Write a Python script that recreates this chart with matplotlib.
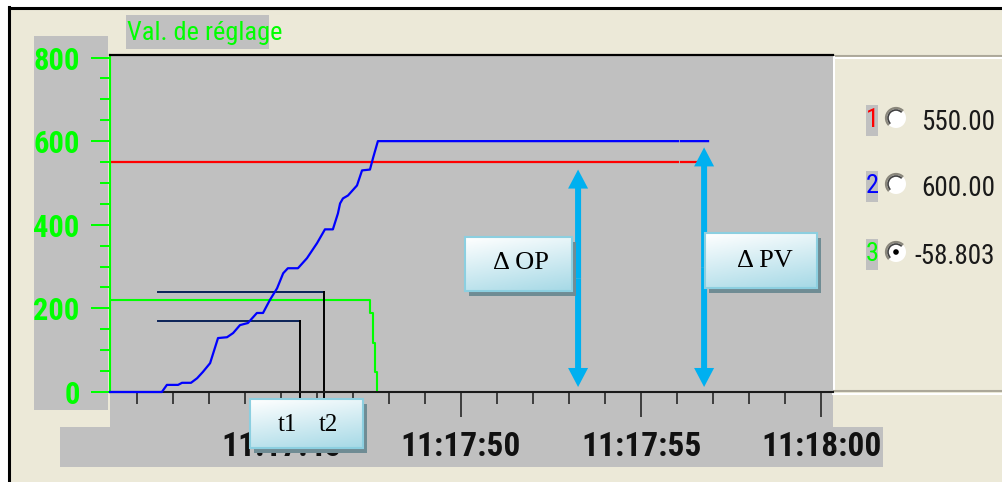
import numpy as np
import matplotlib.pyplot as plt
from matplotlib import font_manager
from matplotlib.patches import Rectangle, Circle, Arc, FancyArrow
from matplotlib.colors import LinearSegmentedColormap
from matplotlib.ticker import MultipleLocator

# temps en secondes après 11:17:00
t_consigne = [40.25, 56.03, 56.07, 56.11, 56.78]
v_consigne = [550, 550, np.nan, 550, 550]

t_mesure = [40.25, 41.69, 41.83, 42.14, 42.25, 42.50, 42.67, 42.83, 43.03, 43.25,
            43.50, 43.67, 43.86, 44.08, 44.33, 44.50, 44.69, 44.89, 45.06, 45.19,
            45.47, 45.72, 46.00, 46.22, 46.44, 46.58, 46.64, 46.72, 46.86, 47.11,
            47.25, 47.47, 47.56, 47.69, 56.03, 56.07, 56.11, 56.86]
v_mesure = [0, 0, 17, 17, 22, 22, 33, 48, 69, 129,
            131, 141, 160, 165, 189, 189, 220, 248, 284, 296,
            296, 320, 356, 389, 389, 427, 451, 463, 470, 494,
            530, 532, 561, 600, 600, np.nan, 600, 600]

t_sortie = [40.25, 47.47, 47.56, 47.61, 47.67]
v_sortie = [220, 190, 117, 48, 0]

# repères t1 / t2
t_repere = [45.53, 46.19]
niv_repere = [169, 238]
t_depart_repere = 41.58

# flèches delta OP / delta PV
t_fleche = [53.25, 56.75]
haut_fleche = [532, 585]
bas_fleche = 12

legende_num = ['1', '2', '3']
legende_val = ['550.00', '600.00', '-58.803']
legende_coul = ['#ff0000', '#0000ff', '#00ff00']

dispo = {f.name for f in font_manager.fontManager.ttflist}
etroite = next(f for f in ['Liberation Sans Narrow', 'Roboto Condensed', 'DejaVu Sans'] if f in dispo)
serif = 'Liberation Serif'

GRIS = '#c0c0c0'
BEIGE = '#ece9d8'
VERT = '#00ff00'

W, H = 1002, 482
fig = plt.figure(figsize=(W / 100, H / 100), dpi=100)
fig.patch.set_facecolor('white')

# fond de la fenêtre (coordonnées en pixels)
fond = fig.add_axes([0, 0, 1, 1], zorder=-1)
fond.set_xlim(0, W)
fond.set_ylim(H, 0)
fond.axis('off')
fond.add_patch(Rectangle((9, 7), W - 9, H - 7, fc=BEIGE, ec='none'))
fond.plot([9.5, 9.5], [7, H], color='black', lw=2.2)
fond.plot([9, W], [7.5, 7.5], color='black', lw=2.2)
fond.add_patch(Rectangle((126, 15), 143, 34, fc=GRIS, ec='none'))
fond.add_patch(Rectangle((34, 36), 74, 374, fc=GRIS, ec='none'))
fond.add_patch(Rectangle((110, 55), 723, 372, fc=GRIS, ec='none'))
fond.add_patch(Rectangle((60, 427), 823, 40, fc=GRIS, ec='none'))
fond.text(127, 33, 'Val. de réglage', color=VERT, fontsize=19, family=etroite,
          ha='left', va='center')

# panneau de droite avec les valeurs courantes
fond.add_patch(Rectangle((833, 55), W - 833, 337, fc=BEIGE, ec='none'))
fond.plot([833, W], [55.5, 55.5], color='#aca899', lw=1.5)
fond.plot([835, W], [58, 58], color='white', lw=1.5)
fond.plot([834.5, 834.5], [57, 391], color='white', lw=1.5)
fond.plot([833, W], [391, 391], color='#aca899', lw=1.5)
fond.plot([833, W], [394, 394], color='white', lw=1.5)
for k, y in enumerate([120, 186, 254]):
    fond.add_patch(Rectangle((866, y - 15), 12, 31, fc=GRIS, ec='none'))
    fond.text(872, y, legende_num[k], color=legende_coul[k], fontsize=19,
              family=etroite, ha='center', va='center')
    fond.add_patch(Circle((896, y - 2), 10, fc='white', ec='none'))
    fond.add_patch(Arc((896, y - 2), 20, 20, theta1=135, theta2=315, color='#8a877c', lw=1.6))
    fond.add_patch(Arc((896, y - 2), 16, 16, theta1=135, theta2=315, color='#404040', lw=1.2))
    if k == 2:
        fond.add_patch(Circle((896, y - 2), 2.8, fc='black', ec='none'))
    fond.text(995, y + 2, legende_val[k], color='#1a1a1a', fontsize=19.5,
              family=etroite, ha='right', va='center')

# zone de tracé
ax = fig.add_axes([110 / W, 1 - 392 / H, 723 / W, 337 / H])
ax.set_facecolor(GRIS)
ax.set_xlim(40.25, 60.33)
ax.set_ylim(0, 806)
ax.spines['right'].set_visible(False)
ax.spines['top'].set_color('black')
ax.spines['top'].set_linewidth(1.6)
ax.spines['left'].set_color(VERT)
ax.spines['left'].set_linewidth(1.5)
ax.spines['bottom'].set_color('#1a1a1a')
ax.spines['bottom'].set_linewidth(1.5)


def heure(t):
    t = int(round(t))
    return f'11:{17 + t // 60}:{t % 60:02d}'


graduations = [45, 50, 55, 60]
ax.set_xticks(graduations, [heure(t) for t in graduations], fontsize=24,
              fontweight='bold', family=etroite, color='#111111')
ax.xaxis.set_minor_locator(MultipleLocator(1))
ax.tick_params(axis='x', which='major', direction='out', length=18, width=1.1,
               color='#1a1a1a', pad=10)
ax.tick_params(axis='x', which='minor', direction='out', length=8.6, width=1.1,
               color='#1a1a1a')

niveaux = [0, 200, 400, 600, 800]
ax.set_yticks(niveaux, [str(v) for v in niveaux], fontsize=22, fontweight='bold',
              family=etroite, color=VERT)
ax.yaxis.set_minor_locator(MultipleLocator(50))
ax.tick_params(axis='y', which='major', direction='out', length=13.7, width=1.44,
               color=VERT, pad=8)
ax.tick_params(axis='y', which='minor', direction='out', length=7.2, width=1.44,
               color=VERT)

ax.plot(t_consigne, v_consigne, color='#ff0000', lw=1.6)
ax.plot(t_mesure, v_mesure, color='#0000ff', lw=1.6, zorder=2.6, clip_on=False)
ax.plot(t_sortie, v_sortie, color=VERT, lw=1.5, drawstyle='steps-post')

for t, niv in zip(t_repere, niv_repere):
    ax.plot([t_depart_repere, t], [niv, niv], color='#0b2258', lw=1.4, zorder=2.5)
    ax.plot([t, t], [niv, -15], color='black', lw=1.4, zorder=2.5, clip_on=False)

# flèches doubles (largeurs en unités de données, axe x : 36 px/s, axe y : 0.418 px/unité)
for t, haut in zip(t_fleche, haut_fleche):
    milieu = (haut + bas_fleche) / 2
    for bout in (haut, bas_fleche):
        ax.add_patch(FancyArrow(t, milieu, 0, bout - milieu, width=6 / 36,
                                head_width=20 / 36, head_length=19 / 0.418,
                                length_includes_head=True, fc='#00b0f0', ec='none',
                                zorder=3))

# étiquettes en surimpression
dessus = fig.add_axes([0, 0, 1, 1], zorder=10)
dessus.patch.set_alpha(0)
dessus.axis('off')
degrade = LinearSegmentedColormap.from_list('bleu', ['#ffffff', '#a6d9e6'])


def etiquette(x0, y0, x1, y1):
    dessus.add_patch(Rectangle((x0 + 4, y0 + 5), x1 - x0, y1 - y0, fc='#6f8c94', ec='none'))
    yy, xx = np.mgrid[0:1:48j, 0:1:48j]
    dessus.imshow(0.75 * yy + 0.25 * xx, extent=(x0, x1, y1, y0), cmap=degrade,
                  vmin=0, vmax=1, aspect='auto', interpolation='bilinear', zorder=2)
    dessus.add_patch(Rectangle((x0, y0), x1 - x0, y1 - y0, fc='none', ec='#8ccfe0',
                               lw=1.5, zorder=3))


etiquette(250, 399, 363, 448)
dessus.text(287, 425, 't1', family=serif, fontsize=18, ha='center', va='center', zorder=4)
dessus.text(328, 425, 't2', family=serif, fontsize=18, ha='center', va='center', zorder=4)
etiquette(465, 237, 572, 291)
dessus.text(521, 263, 'Δ OP', family=serif, fontsize=19, ha='center', va='center', zorder=4)
etiquette(705, 233, 817, 288)
dessus.text(765, 261, 'Δ PV', family=serif, fontsize=19, ha='center', va='center', zorder=4)
dessus.set_xlim(0, W)
dessus.set_ylim(H, 0)

fig.savefig('out.png', dpi=100)
